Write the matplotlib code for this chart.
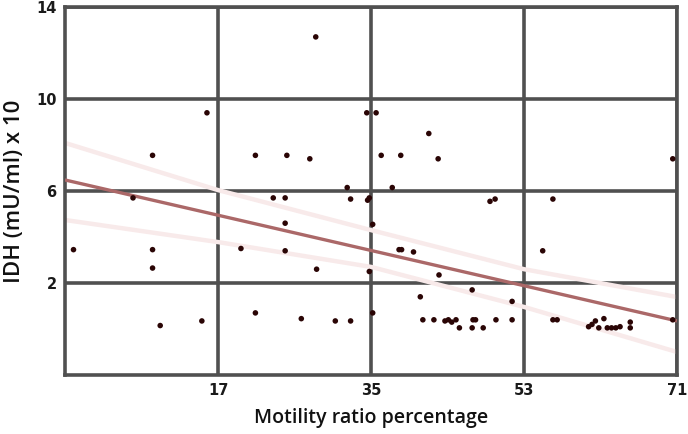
import numpy as np
import matplotlib
matplotlib.use("Agg")
import matplotlib.pyplot as plt

# Data (Motility ratio percentage vs IDH (mU/ml) x 10)
motility = [0, 7, 9.3, 9.3, 9.3, 10.2, 15.1, 15.7, 19.7, 21.4, 21.4, 23.5, 24.9, 24.9,
            24.9, 25.1, 26.8, 27.8, 28.5, 28.6, 30.8, 32.2, 32.6, 32.6, 34.5, 35.6,
            34.6, 34.8, 35.2, 34.8, 35.2, 36.2, 37.5, 38.5, 41.8, 42.9, 49.0, 49.6,
            38.3, 38.6, 40.0, 43.0, 46.9, 40.8, 51.6, 41.1, 42.4, 43.7, 44.1, 44.5,
            45.0, 45.4, 46.9, 47.0, 47.3, 48.2, 49.7, 51.6, 55.2, 56.4, 56.4, 56.9,
            70.5, 60.6, 61.0, 61.4, 61.8, 62.4, 62.8, 63.3, 63.8, 64.3, 65.5, 65.5, 70.5]
idh = [3.45, 5.7, 7.55, 3.45, 2.65, 0.15, 0.35, 9.4, 3.5, 7.55, 0.7, 5.7, 5.7, 4.6,
       3.4, 7.55, 0.45, 7.4, 12.7, 2.6, 0.35, 6.15, 5.65, 0.35, 9.4, 9.4,
       5.6, 5.7, 4.55, 2.5, 0.7, 7.55, 6.15, 7.55, 8.5, 7.4, 5.55, 5.65,
       3.45, 3.45, 3.35, 2.35, 1.7, 1.4, 1.2, 0.4, 0.4, 0.35, 0.4, 0.3,
       0.4, 0.05, 0.05, 0.4, 0.4, 0.05, 0.4, 0.4, 3.4, 5.65, 0.4, 0.4,
       7.4, 0.1, 0.2, 0.35, 0.05, 0.45, 0.05, 0.05, 0.05, 0.1, 0.3, 0.05, 0.4]

# Fit line and 95% confidence band
fit_x = [-1, 71]
fit_y = [6.48, 0.35]
ci_x = [-1, 17, 35, 53, 71]
ci_upper = [8.09, 6.04, 4.3, 2.6, 1.39]
ci_lower = [4.74, 3.78, 2.7, 0.96, -1.0]

x_ticks = [17, 35, 53, 71]
y_ticks = [2, 6, 10, 14]

fig = plt.figure(figsize=(6.88, 4.34), dpi=100)
ax = fig.add_axes([65 / 688, 1 - 375 / 434, (677 - 65) / 688, (375 - 7) / 434])
ax.set_xlim(-1, 71)
ax.set_ylim(-2, 14)

grid_col = "#505050"
for v in x_ticks:
    ax.axvline(v, color=grid_col, lw=2.6, zorder=1)
for v in y_ticks:
    ax.axhline(v, color=grid_col, lw=2.6, zorder=1)
for sp in ax.spines.values():
    sp.set_color(grid_col)
    sp.set_linewidth(2.6)

ax.plot(ci_x, ci_upper, color="#f8eaea", lw=3.2, zorder=2, solid_capstyle="butt")
ax.plot(ci_x, ci_lower, color="#f8eaea", lw=3.2, zorder=2, solid_capstyle="butt")
ax.plot(fit_x, fit_y, color="#ab6868", lw=2.4, zorder=3, solid_capstyle="butt")
ax.scatter(motility, idh, s=16, color="#2a0505", edgecolors="none", zorder=4)

ax.set_xticks(x_ticks)
ax.set_yticks(y_ticks)
ax.tick_params(length=0, pad=6)
for lab in ax.get_xticklabels() + ax.get_yticklabels():
    lab.set_fontsize(10.5)
    lab.set_fontweight("bold")
    lab.set_family(["Liberation Sans Narrow", "DejaVu Sans"])
    lab.set_color("#1a1a1a")
ax.set_xlabel("Motility ratio percentage", fontsize=14, family="Open Sans",
              fontweight="semibold", color="#111111", labelpad=7)
ax.set_ylabel("IDH (mU/ml) x 10", fontsize=16, family="Open Sans",
              fontweight="semibold", color="#111111", labelpad=8)

fig.savefig("out.png", dpi=100)
